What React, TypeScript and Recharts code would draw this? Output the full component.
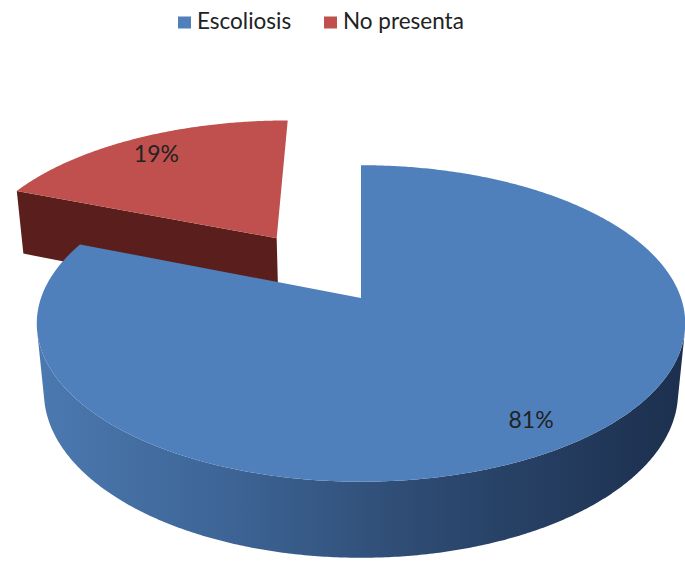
import React from 'react';
import { PieChart, Pie, Cell, Legend } from 'recharts';

// ---- data ----
const CATEGORIES = ['Escoliosis', 'No presenta'];
const VALUES = [81, 19];

// ---- styles ----
const TOP_COLORS = ['#4F80BC', '#C0504D'];
const WALL_STOPS: Record<string, [string, string][]> = {
  'Escoliosis': [['0%', '#4B79B0'], ['30%', '#3D6495'], ['60%', '#2D4A71'], ['100%', '#1C2F4E']],
  'No presenta': [['0%', '#6A2624'], ['100%', '#4A1816']],
};
const FACE_COLORS: Record<string, string> = { 'Escoliosis': '#2A4468', 'No presenta': '#5A1E1C' };
const EXPLODE: Record<string, number> = { 'No presenta': 0.5 }; // fraction of radius

const RAD = Math.PI / 180;
const ELEV = 28.8 * RAD;
const SIN_E = Math.sin(ELEV);
const COS_E = Math.cos(ELEV);
const FOCAL = 5.45; // in radii
const DEPTH = 0.248; // in radii
const LABEL_R = 0.84;

const FONT = 'Lato, "Open Sans", sans-serif';

const pieData = CATEGORIES.map((name, i) => ({ name, value: VALUES[i], color: TOP_COLORS[i] })).reverse();

function geom(props: any) {
  const { cx, cy, outerRadius: R, startAngle, endAngle } = props;
  const name = props.name ?? props.payload?.name;
  const mid = ((props.midAngle ?? (startAngle + endAngle) / 2) as number) * RAD;
  const e = (EXPLODE[name] || 0) * R;
  const ox = e * Math.cos(mid);
  const oz = -e * Math.sin(mid);
  const F = FOCAL * R;
  const P = (X: number, Y: number, Z: number): [number, number] => {
    const u = Y * COS_E - Z * SIN_E;
    const d = Y * SIN_E + Z * COS_E;
    const s = F / (F - d);
    return [cx + X * s, cy - u * s];
  };
  return { name, R, ox, oz, F, P, mid };
}

const pts = (arr: [number, number][]) => arr.map((p) => `${p[0].toFixed(2)},${p[1].toFixed(2)}`).join(' ');

function Slice3D(props: any) {
  const { startAngle, endAngle, fill } = props;
  const { name, R, ox, oz, F, P } = geom(props);
  const H = DEPTH * R;
  const a0 = Math.min(startAngle, endAngle);
  const a1 = Math.max(startAngle, endAngle);
  const n = Math.max(2, Math.ceil((a1 - a0) * 2));
  const angles = Array.from({ length: n + 1 }, (_, i) => (a0 + ((a1 - a0) * i) / n) * RAD);
  const rim = (a: number, y: number) => P(ox + R * Math.cos(a), y, oz - R * Math.sin(a));
  const camY = F * SIN_E;
  const camZ = F * COS_E;

  // top face
  const apexTop = P(ox, 0, oz);
  const apexBot = P(ox, -H, oz);
  const top = [apexTop, ...angles.map((a) => rim(a, 0))];

  // radial faces
  const faces: [number, number][][] = [];
  const distApex = Math.hypot(ox, camY, camZ - oz);
  const faceDefs = [
    { a: a0 * RAD, nx: Math.sin(a0 * RAD), nz: Math.cos(a0 * RAD) },
    { a: a1 * RAD, nx: -Math.sin(a1 * RAD), nz: -Math.cos(a1 * RAD) },
  ];
  faceDefs.forEach((f) => {
    const dot = (f.nx * (0 - ox) + f.nz * (camZ - oz)) / distApex;
    if (dot > 0.1) {
      faces.push([apexTop, rim(f.a, 0), rim(f.a, -H), apexBot]);
    }
  });

  // outer wall (front facing part)
  const visIdx: number[] = [];
  angles.forEach((a, i) => {
    const X = ox + R * Math.cos(a);
    const Z = oz - R * Math.sin(a);
    const dot = Math.cos(a) * (0 - X) + -Math.sin(a) * (camZ - Z);
    if (dot > 0) visIdx.push(i);
  });
  let wall: [number, number][] | null = null;
  if (visIdx.length > 1) {
    const i0 = visIdx[0];
    const i1 = visIdx[visIdx.length - 1];
    const seg = angles.slice(i0, i1 + 1);
    wall = [...seg.map((a) => rim(a, 0)), ...seg.slice().reverse().map((a) => rim(a, -H))];
  }
  const gid = `wall-${name.replace(/\s+/g, '-')}`;
  const stops = WALL_STOPS[name] || [['0%', fill], ['100%', fill]];
  return (
    <g>
      <defs>
        <linearGradient id={gid} x1="0" y1="0" x2="1" y2="0">
          {stops.map(([o, c]) => (
            <stop key={o} offset={o} stopColor={c} />
          ))}
        </linearGradient>
      </defs>
      {faces.map((f, i) => (
        <polygon key={i} points={pts(f)} fill={FACE_COLORS[name] || fill} stroke="none" />
      ))}
      {wall && <polygon points={pts(wall)} fill={`url(#${gid})`} stroke="none" />}
      <polygon points={pts(top)} fill={fill} stroke="none" />
    </g>
  );
}

function renderLabel(props: any) {
  const { name, R, ox, oz, P, mid } = geom(props);
  const r = LABEL_R * R;
  const [x, y] = P(ox + r * Math.cos(mid), 0, oz - r * Math.sin(mid));
  return (
    <text
      key={name}
      x={x}
      y={y}
      textAnchor="middle"
      dominantBaseline="central"
      fontFamily={FONT}
      fontSize={23}
      fill="#222"
    >
      {`${Math.round(props.percent * 100)}%`}
    </text>
  );
}

const LEGEND_X = [178, 324];

function renderLegend(props: any) {
  const payload: any[] = props.payload || [];
  return (
    <svg width={685} height={40} style={{ position: 'absolute', left: 0, top: 0, overflow: 'visible' }}>
      {CATEGORIES.map((c, i) => {
        const item = payload.find((p) => p.value === c);
        const color = item?.color || TOP_COLORS[i];
        return (
          <g key={c}>
            <rect x={LEGEND_X[i]} y={16.5} width={13} height={12} fill={color} />
            <text x={LEGEND_X[i] + 19} y={29} fontFamily={FONT} fontSize={22.5} fill="#222">
              {c}
            </text>
          </g>
        );
      })}
    </svg>
  );
}

export default function App() {
  return (
    <div style={{ position: 'fixed', left: 0, top: 0, width: 685, height: 561, background: '#fff' }}>
      <PieChart width={685} height={561} margin={{ top: 0, right: 0, bottom: 0, left: 0 }}>
        <Pie
          data={pieData}
          dataKey="value"
          nameKey="name"
          cx={361}
          cy={298}
          outerRadius={320}
          startAngle={90}
          endAngle={450}
          stroke="none"
          isAnimationActive={false}
          shape={Slice3D}
          inactiveShape={Slice3D}
          activeShape={Slice3D}
          label={renderLabel}
          labelLine={false}
        >
          {pieData.map((d) => (
            <Cell key={d.name} fill={d.color} />
          ))}
        </Pie>
        <Legend
          layout="vertical"
          align="right"
          verticalAlign="top"
          wrapperStyle={{ left: 0, top: 0, width: 1, height: 1, overflow: 'visible' }}
          content={renderLegend}
        />
      </PieChart>
    </div>
  );
}
